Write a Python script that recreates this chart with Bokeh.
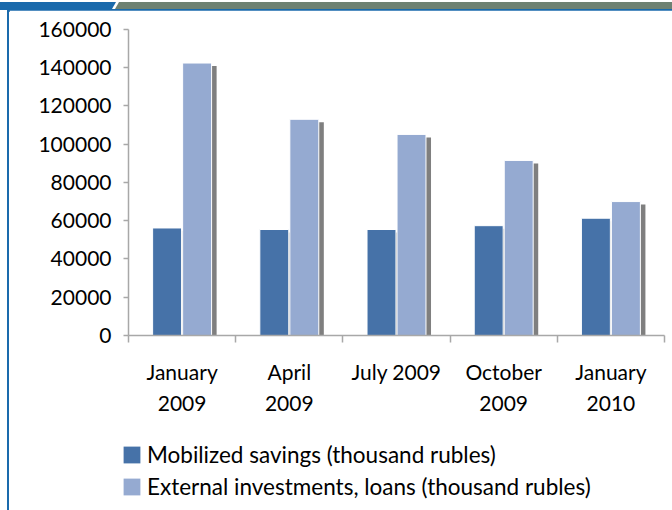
import numpy as np
from bokeh.plotting import figure
from bokeh.layouts import column, row
from bokeh.models import (LinearAxis, FixedTicker, BasicTickFormatter, Range1d,
                          Legend, LegendItem, Div)
from bokeh.embed import file_html
from bokeh.resources import INLINE

# ---- data ----
categories_line1 = ["January", "April", "July 2009", "October", "January"]
categories_line2 = ["2009", "2009", "", "2009", "2010"]
mobilized_savings = [56200, 55400, 55400, 57400, 61300]
external_investments = [142400, 113000, 105100, 91500, 70000]
y_ticks = [0, 20000, 40000, 60000, 80000, 100000, 120000, 140000, 160000]
series_names = ["Mobilized savings (thousand rubles)",
                "External investments, loans (thousand rubles)"]

DARK = "#4672A8"
LIGHT = "#95AAD1"
SHADOW = "#7F7F7F"
GRID = "#A8A8A8"
BLUE = "#1A6AAC"
BAND = "#6E8172"
FONT = "Lato"
FS = "21px"

n = len(categories_line1)
idx = np.arange(n)
centers = idx + 0.5
bar_w = 0.27
off = 0.14
sh_dx = 0.047
sh_dy = 1570

p = figure(width=663, height=420, output_backend="svg", toolbar_location=None,
           x_range=Range1d(0, n), y_range=Range1d(0, 161500),
           x_axis_type=None, y_axis_type=None,
           min_border_left=119, min_border_right=8, min_border_top=16,
           min_border_bottom=95)
p.frame_align = False
p.outline_line_color = None
p.background_fill_color = "white"
p.border_fill_color = "white"

# y axis
yax = LinearAxis(ticker=FixedTicker(ticks=y_ticks),
                 formatter=BasicTickFormatter(use_scientific=False),
                 bounds=(0, 160000))
yax.axis_line_color = GRID
yax.axis_line_width = 1.5
yax.major_tick_line_color = GRID
yax.major_tick_line_width = 1.5
yax.major_tick_out = 5
yax.major_tick_in = 0
yax.minor_tick_line_color = None
yax.major_label_text_font = FONT
yax.major_label_text_font_size = FS
yax.major_label_text_color = "#000000"
yax.major_label_standoff = 12
p.add_layout(yax, "left")
p.ygrid.ticker = FixedTicker(ticks=y_ticks)
p.ygrid.grid_line_color = GRID
p.ygrid.grid_line_width = 1.5

# x axes (two rows of labels)
xax1 = LinearAxis(ticker=FixedTicker(ticks=list(centers), minor_ticks=list(np.arange(n + 1))),
                  major_label_overrides={float(c): t for c, t in zip(centers, categories_line1)})
xax1.axis_line_color = GRID
xax1.axis_line_width = 1.5
xax1.major_tick_line_color = None
xax1.major_tick_out = 0
xax1.major_tick_in = 0
xax1.minor_tick_line_color = GRID
xax1.minor_tick_line_width = 1.5
xax1.minor_tick_out = 7
xax1.minor_tick_in = 0
xax1.major_label_text_font = FONT
xax1.major_label_text_font_size = FS
xax1.major_label_text_color = "#000000"
xax1.major_label_standoff = 16
p.add_layout(xax1, "below")

xax2 = LinearAxis(ticker=FixedTicker(ticks=list(centers)),
                  major_label_overrides={float(c): t for c, t in zip(centers, categories_line2)})
xax2.axis_line_color = None
xax2.major_tick_line_color = None
xax2.minor_tick_line_color = None
xax2.major_label_text_font = FONT
xax2.major_label_text_font_size = FS
xax2.major_label_text_color = "#000000"
xax2.major_label_standoff = 3
p.add_layout(xax2, "below")

# shadows
p.vbar(x=centers - off + sh_dx, top=np.array(mobilized_savings) - sh_dy, width=bar_w,
       fill_color=SHADOW, line_color=None)
p.vbar(x=centers + off + sh_dx, top=np.array(external_investments) - sh_dy, width=bar_w,
       fill_color=SHADOW, line_color=None)

# bars
p.vbar(x=centers - off, top=mobilized_savings, width=bar_w,
       fill_color=DARK, line_color="white", line_width=1)
p.vbar(x=centers + off, top=external_investments, width=bar_w,
       fill_color=LIGHT, line_color="white", line_width=1)

# legend figure (zero-size proxy glyphs carry the legend swatches)
p2 = figure(width=663, height=80, output_backend="svg", toolbar_location=None,
            x_range=Range1d(0, 1), y_range=Range1d(0, 1),
            x_axis_type=None, y_axis_type=None,
            min_border_left=112, min_border_right=0, min_border_top=11,
            min_border_bottom=0)
p2.frame_align = False
p2.outline_line_color = None
p2.grid.visible = False
p2.background_fill_color = "white"
p2.border_fill_color = "white"
l1 = p2.vbar(x=[0], top=[0], bottom=[0], width=0, fill_color=DARK, line_color=None)
l2 = p2.vbar(x=[0], top=[0], bottom=[0], width=0, fill_color=LIGHT, line_color=None)
legend = Legend(items=[LegendItem(label=series_names[0], renderers=[l1]),
                       LegendItem(label=series_names[1], renderers=[l2])],
                location="top_left", orientation="vertical")
legend.label_text_font = FONT
legend.label_text_font_size = "22.5px"
legend.label_text_color = "#000000"
legend.glyph_width = 21
legend.glyph_height = 21
legend.label_standoff = 5
legend.spacing = 5
legend.padding = 0
legend.margin = 0
legend.border_line_color = None
legend.background_fill_alpha = 0
p2.add_layout(legend, "center")

band_html = (
    '<div style="position:relative;width:672px;height:10px;background:white;">'
    '<div style="position:absolute;left:0;top:0;width:672px;height:7px;background:%s;'
    'clip-path:polygon(0 0,116px 0,112px 7px,0 7px);"></div>'
    '<div style="position:absolute;left:0;top:0;width:672px;height:7px;background:%s;'
    'clip-path:polygon(119px 0,672px 0,672px 7px,115px 7px);"></div>'
    '<div style="position:absolute;left:0;top:7px;width:672px;height:3px;background:%s;"></div>'
    '</div>' % (BLUE, BAND, BLUE)
)
band = Div(text=band_html, width=672, height=10, margin=0)
left_html = (
    '<div style="position:relative;width:9px;height:500px;background:white;">'
    '<div style="position:absolute;left:7px;top:0;width:2px;height:500px;background:%s;"></div>'
    '</div>' % BLUE
)
left = Div(text=left_html, width=9, height=500, margin=0)

layout = column(band, row(left, column(p, p2, spacing=0, margin=0), spacing=0, margin=0),
                spacing=0, margin=0)

open("out.html", "w").write(file_html(layout, INLINE))
